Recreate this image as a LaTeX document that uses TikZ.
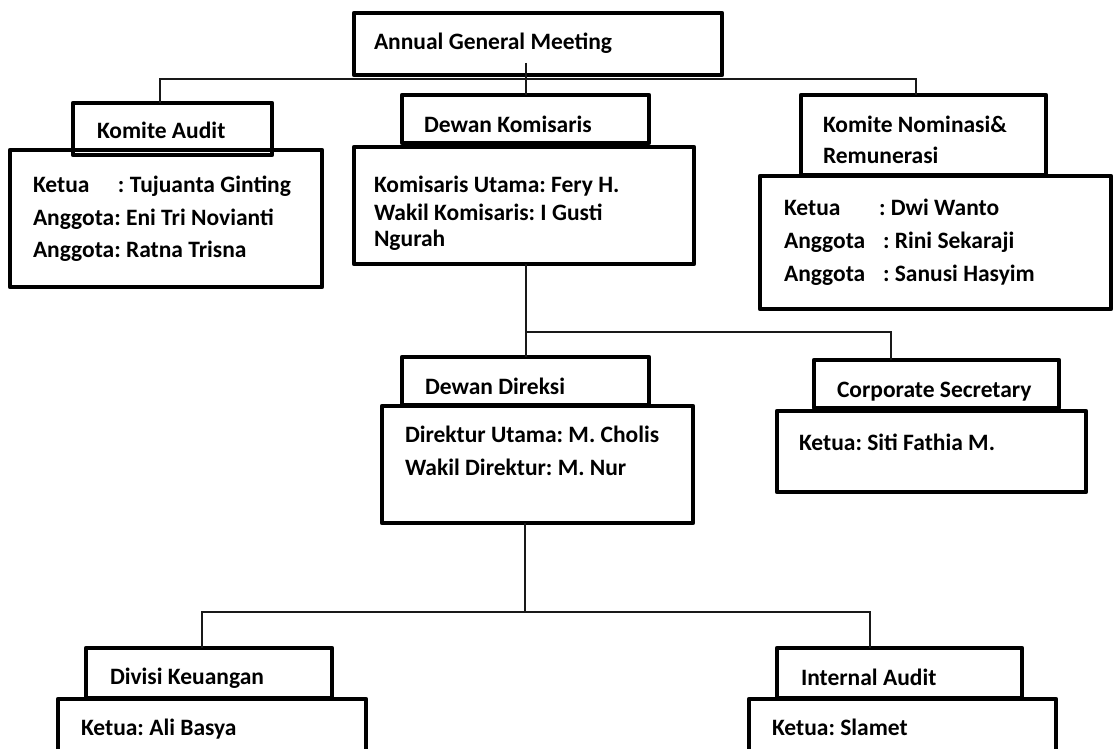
\documentclass[tikz,border=0pt]{standalone}
\usepackage{fontspec}
\setmainfont{Carlito}
\usetikzlibrary{calc}
\frenchspacing

\tikzset{
  box/.style={draw=black, line width=4.5pt, line join=round, rectangle,
    outer sep=0pt, inner sep=0pt, anchor=north west},
  conn/.style={draw=black!90, line width=1.3pt},
  lbl/.style={inner sep=0pt, outer sep=0pt, anchor=base west,
    font=\fontsize{23.5}{28}\selectfont\bfseries}
}
% box from (x1,y1) to (x2,y2) in pixel units
\newcommand\orgbox[5]{%
  \node[box, minimum width=#4pt-#2pt, minimum height=#5pt-#3pt] (#1) at (#2,#3) {};}

\begin{document}
\begin{tikzpicture}[x=1pt, y=-1pt]
  \useasboundingbox (0,0) rectangle (1116,749);
  \fill[white] (0,0) rectangle (1116,749);
  \clip (0,0) rectangle (1116,749);

  % ---- boxes ----
  \orgbox{agm}{354}{13}{722}{75}
  \orgbox{kaHead}{73}{103}{272}{155}
  \orgbox{kaBody}{10}{150}{322}{287}
  \orgbox{dkHead}{402}{95}{649}{143}
  \orgbox{dkBody}{354}{147}{694}{264}
  \orgbox{knHead}{801}{95}{1046}{175}
  \orgbox{knBody}{760}{176}{1111}{309}
  \orgbox{ddHead}{402}{357}{649}{405}
  \orgbox{ddBody}{382}{406}{693}{523}
  \orgbox{csHead}{814}{360}{1059}{408}
  \orgbox{csBody}{777}{411}{1086}{492}
  \orgbox{dvHead}{86}{648}{332}{698}
  \orgbox{dvBody}{58}{699}{366}{775}
  \orgbox{iaHead}{777}{648}{1022}{698}
  \orgbox{iaBody}{749}{699}{1056}{775}

  % ---- texts ----
  \node[lbl] (tAgm) at (374,50) {Annual General Meeting};

  \node[lbl] (tKa)  at (97,139) {Komite Audit};
  \node[lbl] (tKa1) at (33,192) {\makebox[85pt][l]{Ketua}: Tujuanta Ginting};
  \node[lbl] (tKa2) at (33,225) {Anggota: Eni Tri Novianti};
  \node[lbl] (tKa3) at (33,257) {Anggota: Ratna Trisna};

  \node[lbl] (tDk)  at (424,132) {Dewan Komisaris};
  \node[lbl] (tDk1) at (374,192) {Komisaris Utama: Fery H.};
  \node[lbl] (tDk2) at (374,220) {Wakil Komisaris: I Gusti};
  \node[lbl] (tDk3) at (374,246) {Ngurah};

  \node[lbl] (tKn)  at (823,132) {Komite Nominasi\&};
  \node[lbl] (tKnb) at (823,164) {Remunerasi};
  \node[lbl] (tKn1) at (784,215) {\makebox[95pt][l]{Ketua}: Dwi Wanto};
  \node[lbl] (tKn2) at (784,248) {\makebox[99pt][l]{Anggota}: Rini Sekaraji};
  \node[lbl] (tKn3) at (784,281) {\makebox[99pt][l]{Anggota}: Sanusi Hasyim};

  \node[lbl] (tDd)  at (425,394) {Dewan Direksi};
  \node[lbl] (tDd1) at (405,442) {Direktur Utama: M. Cholis};
  \node[lbl] (tDd2) at (405,475) {Wakil Direktur: M. Nur};

  \node[lbl] (tCs)  at (837,397) {Corporate Secretary};
  \node[lbl] (tCs1) at (799,450) {Ketua: Siti Fathia M.};

  \node[lbl] (tDv)  at (110,684) {Divisi Keuangan};
  \node[lbl] (tDv1) at (81,735) {Ketua: Ali Basya};

  \node[lbl] (tIa)  at (801,685) {Internal Audit};
  \node[lbl] (tIa1) at (772,735) {Ketua: Slamet};

  % ---- connectors ----
  \coordinate (agmStem) at (526,63);
  \coordinate (busTopL) at (160,79);
  \coordinate (busTopR) at (916,79);
  \draw[conn] (agmStem) -- (agmStem |- dkHead.north);
  \draw[conn] (busTopL |- kaHead.north) -- (busTopL) -- (busTopR) -- (busTopR |- knHead.north);

  \coordinate (dkStem) at (526,264);
  \coordinate (csBend) at (891,332);
  \draw[conn] (dkStem) -- (dkStem |- ddHead.north);
  \draw[conn] (dkStem |- csBend) -- (csBend) -- (csBend |- csHead.north);

  \coordinate (ddStem) at (525,523);
  \coordinate (busLowL) at (202,612);
  \coordinate (busLowR) at (870,612);
  \draw[conn] (ddStem) -- (ddStem |- busLowL);
  \draw[conn] (busLowL |- dvHead.north) -- (busLowL) -- (busLowR) -- (busLowR |- iaHead.north);
\end{tikzpicture}
\end{document}
